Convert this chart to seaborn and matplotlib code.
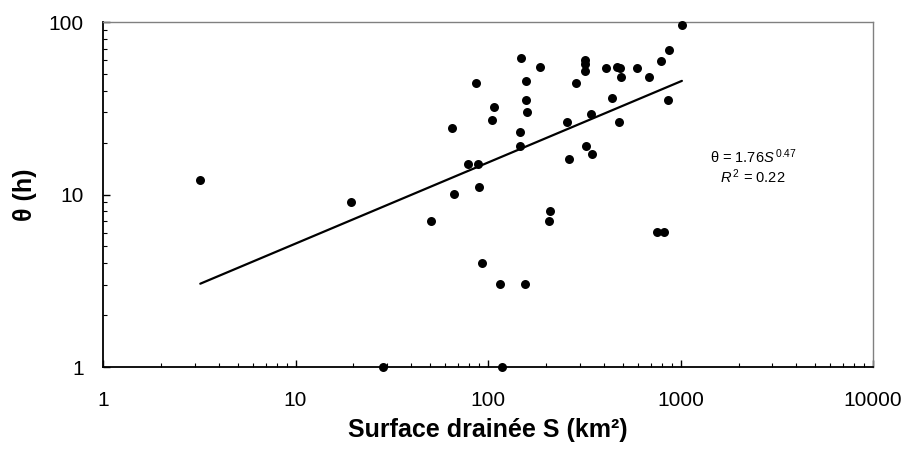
import numpy as np
import pandas as pd
import matplotlib
matplotlib.use("Agg")
import matplotlib.pyplot as plt
import seaborn as sns
from matplotlib.ticker import LogLocator, FixedLocator, NullFormatter

surface = [3.2, 19.4, 28.5, 1016, 869, 794, 149, 186, 319, 320, 319, 412, 468, 487,
           597, 685, 491, 86.7, 158, 285, 443, 857, 158, 107, 159, 105, 344, 256,
           481, 64.8, 147, 146, 322, 346, 263, 79.1, 88.8, 89.5, 66.7, 209, 207,
           50.7, 754, 823, 93.1, 116, 156, 118]
theta = [12.1, 9.1, 1.0, 96, 69, 59.4, 62, 55, 60, 57, 52, 54, 55, 54,
         54, 48, 48, 44.3, 45.3, 44.3, 36.3, 35.2, 35.2, 32.2, 30.2, 27.2, 29.2, 26.2,
         26.2, 24.2, 23.1, 19.1, 19.1, 17.2, 16.1, 15.1, 15.1, 11.1, 10.1, 8.06, 7.05,
         7.05, 6.06, 6.06, 4.03, 3.03, 3.03, 1.0]
fit_a = 1.76
fit_b = 0.47
x_ticks = [1, 10, 100, 1000, 10000]
x_ticklabels = ["1", "10", "100", "1000", "10000"]
y_ticks = [1, 10, 100]
y_ticklabels = ["1", "10", "100"]

df = pd.DataFrame({"S": surface, "theta": theta})
xs = np.geomspace(min(surface), max(surface), 50)
fit_df = pd.DataFrame({"S": xs, "theta": fit_a * xs ** fit_b})

sns.set_theme(style="white")
plt.rcParams["font.family"] = ["Liberation Sans", "DejaVu Sans"]
plt.rcParams["mathtext.fontset"] = "custom"
plt.rcParams["mathtext.it"] = "Liberation Sans:italic"
plt.rcParams["mathtext.rm"] = "Liberation Sans"
plt.rcParams["text.color"] = "black"
plt.rcParams["axes.labelcolor"] = "black"
plt.rcParams["xtick.color"] = "black"
plt.rcParams["ytick.color"] = "black"

fig = plt.figure(figsize=(9.07, 4.5), dpi=100)
ax = fig.add_axes([0.1136, 0.1844, 0.849, 0.7667])

sns.lineplot(data=fit_df, x="S", y="theta", color="black", linewidth=1.6, ax=ax)
sns.scatterplot(data=df, x="S", y="theta", color="black", s=42, edgecolor="black",
                linewidth=0, ax=ax, zorder=3, clip_on=False)

ax.set_xscale("log")
ax.set_yscale("log")
ax.set_xlim(1, 10000)
ax.set_ylim(1, 100)
ax.xaxis.set_major_locator(FixedLocator(x_ticks))
ax.set_xticklabels(x_ticklabels)
ax.yaxis.set_major_locator(FixedLocator(y_ticks))
ax.set_yticklabels(y_ticklabels)
ax.xaxis.set_minor_locator(LogLocator(base=10, subs=np.arange(2, 10)))
ax.yaxis.set_minor_locator(LogLocator(base=10, subs=np.arange(2, 10)))
ax.xaxis.set_minor_formatter(NullFormatter())
ax.yaxis.set_minor_formatter(NullFormatter())

ax.tick_params(axis="both", which="major", direction="in", length=5, width=1,
               labelsize=15, colors="black", labelcolor="black",
               bottom=True, left=True, top=False, right=False)
ax.tick_params(axis="x", which="major", pad=17)
ax.tick_params(axis="y", which="major", pad=14)
ax.tick_params(axis="both", which="minor", direction="in", length=3, width=0.8,
               colors="black", bottom=True, left=True, top=False, right=False)

for side in ["left", "bottom"]:
    ax.spines[side].set_color("black")
    ax.spines[side].set_linewidth(1.3)
for side in ["top", "right"]:
    ax.spines[side].set_color("#808080")
    ax.spines[side].set_linewidth(1.0)

ax.set_xlabel("Surface drainée S (km²)", fontsize=18, fontweight="bold",
              labelpad=6, color="black")
ax.set_ylabel("θ (h)", fontsize=18, fontweight="bold", labelpad=8, color="black")

ax.text(0.844, 0.609, r"θ = 1.76$\mathit{S}^{\,0.47}$", transform=ax.transAxes,
        ha="center", va="center", fontsize=10.5, color="black")
ax.text(0.844, 0.551, r"$\mathit{R}^{\,2}$ = 0.22", transform=ax.transAxes,
        ha="center", va="center", fontsize=10.5, color="black")

fig.savefig("out.png", dpi=100, facecolor="white")
